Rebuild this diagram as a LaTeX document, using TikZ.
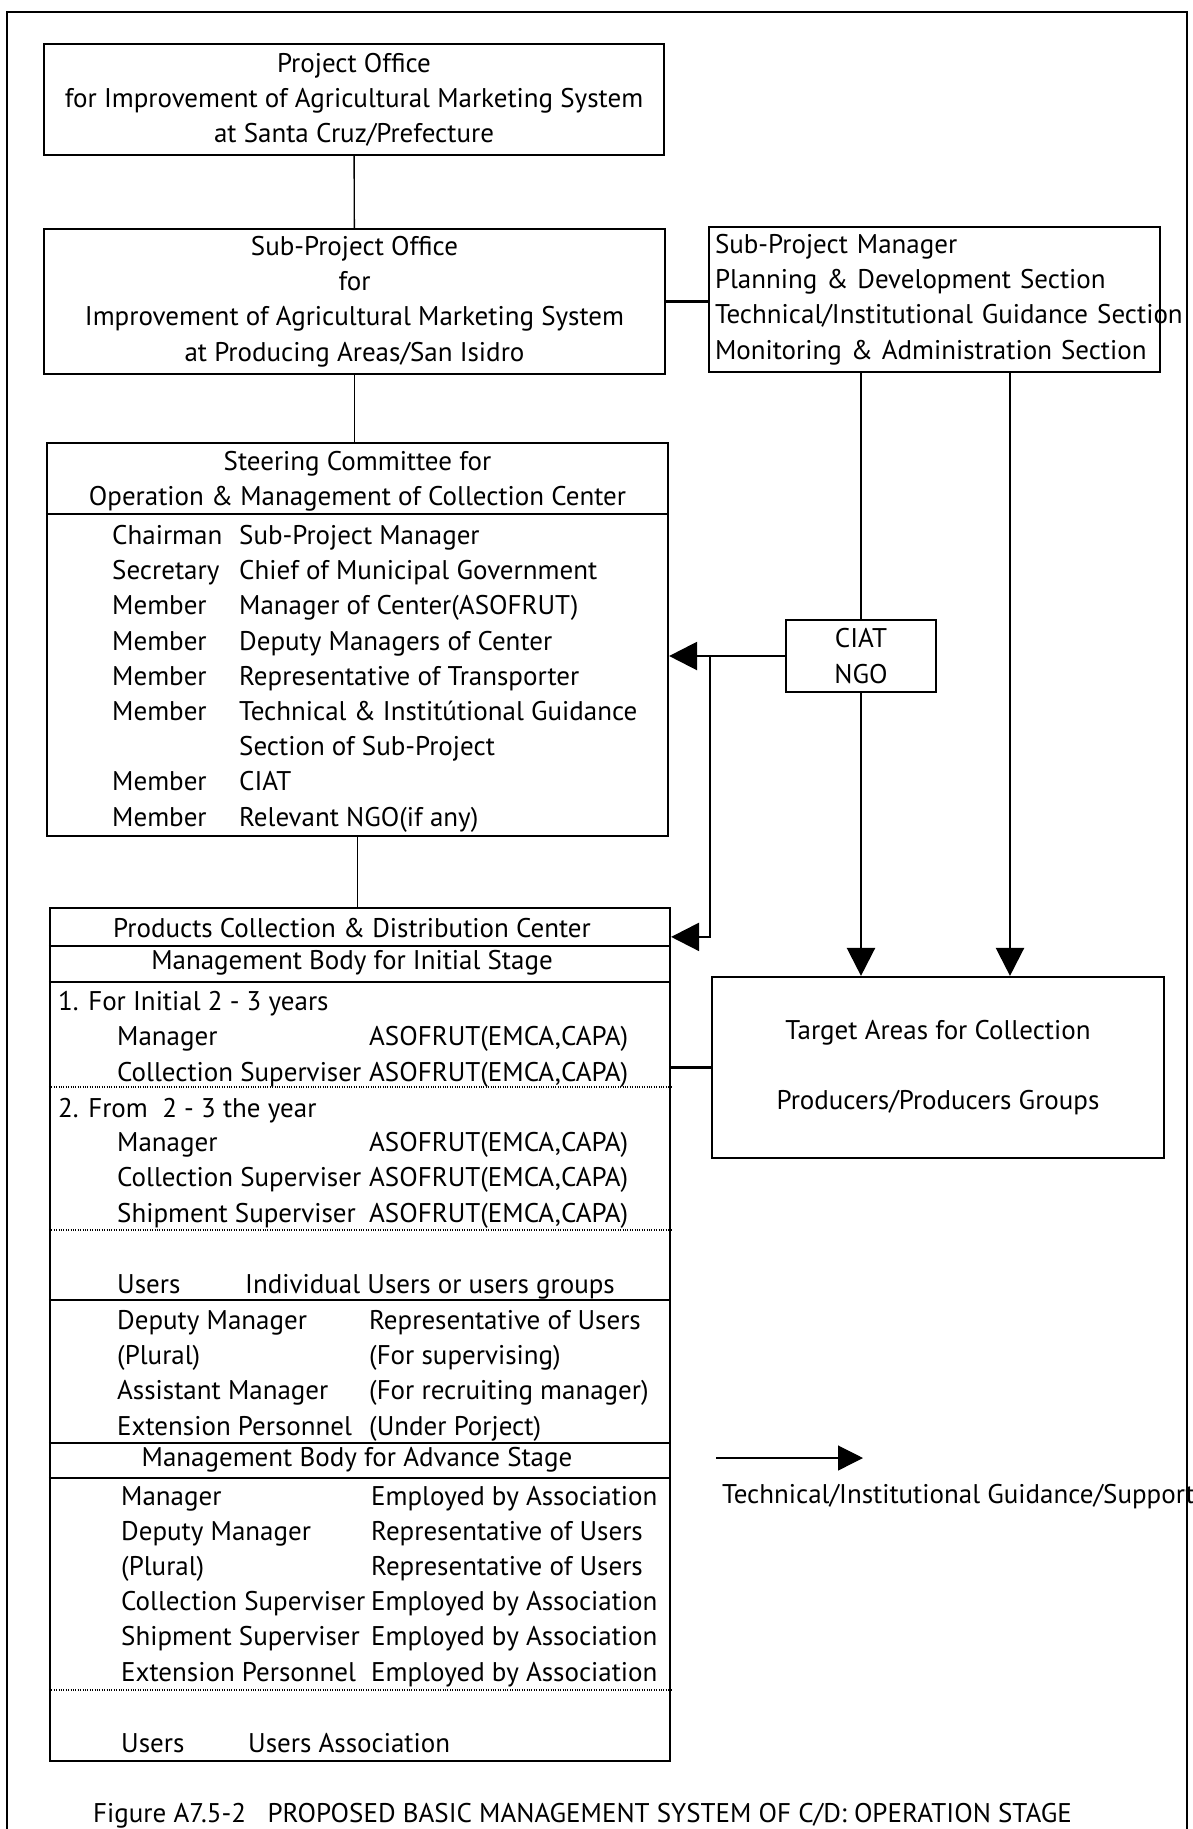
\documentclass[tikz,border=0pt]{standalone}
\usepackage{fontspec}
\setmainfont{PT Sans}
\usetikzlibrary{arrows.meta}

\begin{document}
\begin{tikzpicture}[
    x=1pt, y=-1pt,
    font=\fontsize{27}{35.2}\selectfont,
    box/.style={draw, line width=2.2pt, inner sep=0pt, align=center},
    txt/.style={inner sep=0pt, align=left, anchor=base west},
    link/.style={line width=1.4pt},
    heavy/.style={line width=2.4pt},
    arrow/.style={-{Triangle[length=28pt, width=28pt]}, line width=2.4pt},
    rule/.style={line width=1.8pt},
    dotrule/.style={line width=1.2pt, dash pattern=on 1pt off 1.4pt}
  ]
    \useasboundingbox (0,0) rectangle (1193,1829);
    \draw[line width=2pt] (7,1840) -- (7,12) -- (1187,12) -- (1187,1840);

    \node[box, minimum width=620pt, minimum height=111pt] (po) at (354,99.5) {Project Office\\for Improvement of Agricultural Marketing System\\at Santa Cruz/Prefecture};
    \node[box, minimum width=621pt, minimum height=145pt] (spo) at (354.5,301.5) {Sub-Project Office\\for\\Improvement of Agricultural Marketing System\\at Producing Areas/San Isidro};
    \node[box, minimum width=451pt, minimum height=145pt, text width=439pt, align=left] (spm) at (934.5,299.5) {Sub-Project Manager\\Planning \& Development Section\\\mbox{Technical/Institutional Guidance Section}\\Monitoring \& Administration Section};

    \node[box, minimum width=621pt, minimum height=393pt] (steer) at (357.5,639.5) {};
    \node[align=center] (steertitle) at (357.5,481.5) {Steering Committee for\\Operation \& Management of Collection Center};
    \draw[rule] (steer.west |- 0,514) -- (steer.east |- 0,514);
    \node[txt] (steerrole) at (112,826) {Chairman\\Secretary\\Member\\Member\\Member\\Member\\\mbox{}\\Member\\Member};
    \node[txt] (steerwho) at (239,826) {Sub-Project Manager\\Chief of Municipal Government\\Manager of Center(ASOFRUT)\\Deputy Managers of Center\\Representative of Transporter\\Technical \& Institútional Guidance\\Section of Sub-Project\\CIAT\\Relevant NGO(if any)};

    \node[box, minimum width=620pt, minimum height=853pt] (pcdc) at (360,1334.5) {};
    \node (pcdctitle) at (352,928) {Products Collection \& Distribution Center};
    \draw[rule] (pcdc.west |- 0,946) -- (pcdc.east |- 0,946);
    \node (initial) at (352,963) {Management Body for Initial Stage};
    \draw[rule] (pcdc.west |- 0,982) -- (pcdc.east |- 0,982);
    \node[txt] (first) at (58,1010) {1. For Initial 2 - 3 years};
    \node[txt] (firstrole) at (117,1081) {Manager\\Collection Superviser};
    \node[txt] (firstwho) at (369,1081) {ASOFRUT(EMCA,CAPA)\\ASOFRUT(EMCA,CAPA)};
    \draw[dotrule] (pcdc.west |- 0,1087) -- (pcdc.east |- 0,1087);
    \node[txt] (second) at (58,1117) {2. From \ 2 - 3 the year};
    \node[txt] (secondrole) at (117,1222) {Manager\\Collection Superviser\\Shipment Superviser};
    \node[txt] (secondwho) at (369,1222) {ASOFRUT(EMCA,CAPA)\\ASOFRUT(EMCA,CAPA)\\ASOFRUT(EMCA,CAPA)};
    \draw[dotrule] (pcdc.west |- 0,1230) -- (pcdc.east |- 0,1230);
    \node[txt] (users) at (117,1293) {Users};
    \node[txt] (userswho) at (245,1293) {Individual Users or users groups};
    \draw[rule] (pcdc.west |- 0,1300) -- (pcdc.east |- 0,1300);
    \node[txt] (deputyrole) at (117,1435) {Deputy Manager\\(Plural)\\Assistant Manager\\Extension Personnel};
    \node[txt] (deputywho) at (369,1435) {Representative of Users\\(For supervising)\\(For recruiting manager)\\(Under Porject)};
    \draw[rule] (pcdc.west |- 0,1443) -- (pcdc.east |- 0,1443);
    \node (advance) at (357,1460) {Management Body for Advance Stage};
    \draw[rule] (pcdc.west |- 0,1478) -- (pcdc.east |- 0,1478);
    \node[txt] (advrole) at (121,1681) {Manager\\Deputy Manager\\(Plural)\\Collection Superviser\\Shipment Superviser\\Extension Personnel};
    \node[txt] (advwho) at (371,1681) {Employed by Association\\Representative of Users\\Representative of Users\\Employed by Association\\Employed by Association\\Employed by Association};
    \draw[dotrule] (pcdc.west |- 0,1690) -- (pcdc.east |- 0,1690);
    \node[txt] (assocrole) at (121,1752) {Users};
    \node[txt] (assocwho) at (248,1752) {Users Association};

    \node[box, line width=1.6pt, minimum width=150pt, minimum height=72pt] (ciat) at (861,656) {CIAT\\NGO};
    \node[box, minimum width=452pt, minimum height=181pt] (target) at (938,1067.5) {Target Areas for Collection\\[35pt]Producers/Producers Groups};

    \coordinate (spmright) at ([xshift=75.5pt]spm.south);
    \coordinate (fork) at ([xshift=-75pt]ciat.west);
    \coordinate (pcdcin) at ([yshift=-30pt]pcdc.north east);

    \draw[link] (po) -- (spo);
    \draw[link] (spo.south) -- (spo.south |- steer.north);
    \draw[link] (steer.south) -- (steer.south |- pcdc.north);
    \draw[heavy] (spo.east) -- (spo.east -| spm.west);
    \draw[heavy] (spm.south -| ciat.north) -- (ciat.north);
    \draw[arrow] (ciat.south) -- (ciat.south |- target.north);
    \draw[arrow] (spmright) -- (spmright |- target.north);
    \draw[arrow] (ciat.west) -- (ciat.west -| steer.east);
    \draw[arrow] (fork) |- (pcdcin);
    \draw[heavy] (target.west) -- (target.west -| pcdc.east);

    \coordinate (legfrom) at (716,1458);
    \coordinate (legto) at (863,1458);
    \draw[-{Triangle[length=25pt, width=25pt]}, line width=1.2pt] (legfrom) -- (legto);
    \node[txt] (legtext) at (722,1503) {Technical/Institutional Guidance/Support};

    \node[txt] (caption) at (93,1822) {Figure A7.5-2 \ \ PROPOSED BASIC MANAGEMENT SYSTEM OF C/D: OPERATION STAGE};
  \end{tikzpicture}
\end{document}
